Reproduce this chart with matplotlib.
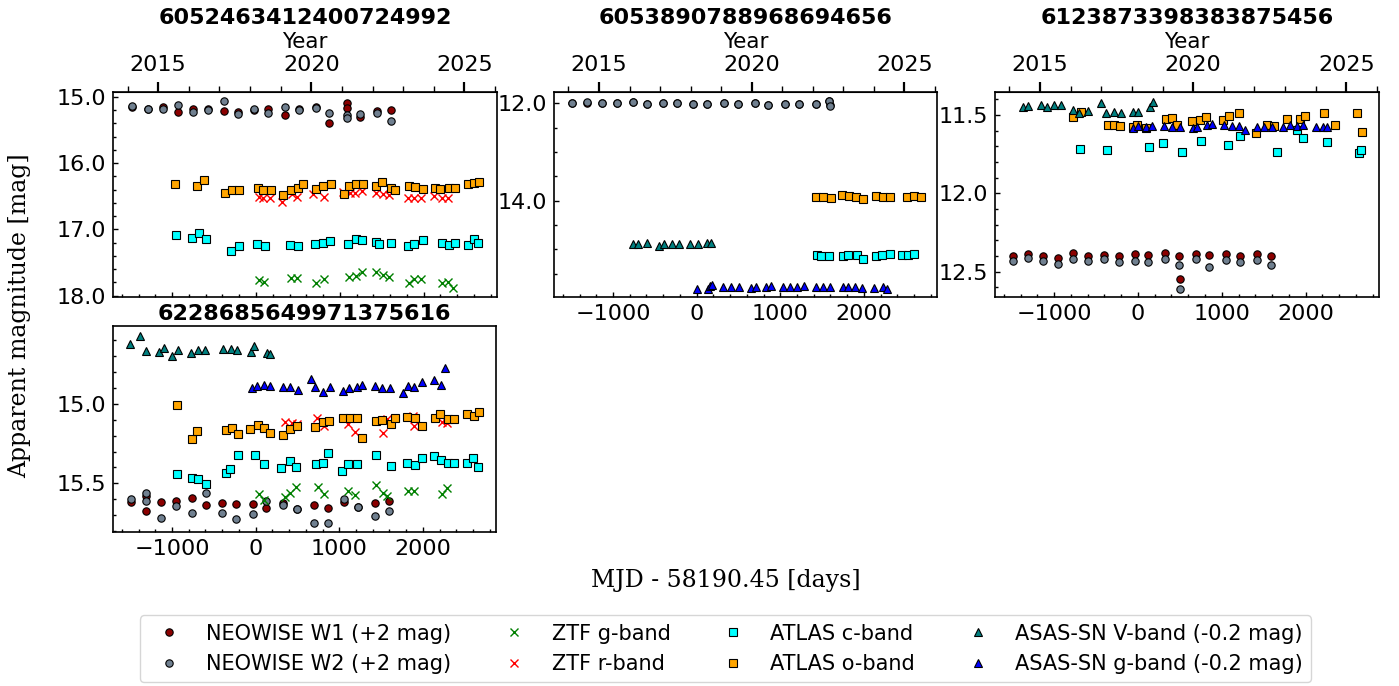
import numpy as np
import matplotlib.pyplot as plt
from matplotlib.ticker import MultipleLocator, FormatStrFormatter, FixedLocator

plt.rcParams['font.size'] = 16

MJD0 = 58190.45
W_OFF = 2.0     # NEOWISE shifted by +2 mag
ASN_OFF = -0.2  # ASAS-SN shifted by -0.2 mag

# ---- 6052463412400724992 ----
src1 = '6052463412400724992'
neo1_t = [-1474, -1291, -1112, -933, -746, -575, -380, -217, -19, 148, 347, 514, 713, 876, 1080, 1087, 1242, 1440, 1607]
neo1_w1 = [13.15, 13.186, 13.16, 13.226, 13.19, 13.19, 13.22, 13.226, 13.20, 13.19, 13.276, 13.181, 13.15, 13.39, 13.10, 13.175, 13.30, 13.21, 13.20]
neo1_w2 = [13.14, 13.186, 13.19, 13.125, 13.226, 13.20, 13.065, 13.266, 13.19, 13.24, 13.15, 13.206, 13.175, 13.25, 13.276, 13.316, 13.266, 13.24, 13.36]
ztf1_g_t = [41, 97, 415, 486, 717, 812, 1114, 1194, 1262, 1432, 1512, 1584, 1822, 1890, 1969, 2216, 2291, 2355]
ztf1_g = [17.765, 17.79, 17.73, 17.74, 17.815, 17.745, 17.725, 17.705, 17.64, 17.65, 17.695, 17.725, 17.815, 17.745, 17.755, 17.805, 17.79, 17.89]
ztf1_r_t = [41, 89, 172, 307, 431, 486, 685, 812, 1043, 1122, 1186, 1262, 1432, 1512, 1584, 1818, 1890, 1969, 2124, 2216, 2291]
ztf1_r = [16.508, 16.533, 16.523, 16.583, 16.473, 16.508, 16.473, 16.508, 16.432, 16.457, 16.457, 16.427, 16.447, 16.473, 16.487, 16.533, 16.533, 16.523, 16.498, 16.533, 16.523]
atl1_c_t = [-949, -762, -679, -595, -297, -198, 13, 105, 403, 498, 709, 800, 884, 1099, 1194, 1269, 1436, 1472, 1611, 1810, 1890, 1989, 2216, 2299, 2371, 2526, 2597, 2653]
atl1_c = [17.09, 17.13, 17.05, 17.15, 17.32, 17.25, 17.22, 17.25, 17.23, 17.25, 17.22, 17.21, 17.18, 17.22, 17.14, 17.16, 17.19, 17.22, 17.21, 17.25, 17.22, 17.16, 17.20, 17.23, 17.20, 17.24, 17.15, 17.20]
atl1_o_t = [-965, -703, -623, -365, -285, -202, 25, 89, 184, 327, 415, 498, 566, 717, 804, 892, 1055, 1114, 1198, 1281, 1432, 1504, 1607, 1663, 1822, 1902, 1993, 2140, 2196, 2299, 2379, 2526, 2597, 2661]
atl1_o = [16.32, 16.35, 16.26, 16.45, 16.41, 16.41, 16.38, 16.41, 16.41, 16.48, 16.41, 16.37, 16.32, 16.39, 16.34, 16.31, 16.47, 16.34, 16.32, 16.31, 16.34, 16.29, 16.37, 16.40, 16.35, 16.36, 16.39, 16.38, 16.39, 16.37, 16.37, 16.31, 16.30, 16.28]

# ---- 6053890788968694656 ----
src2 = '6053890788968694656'
neo2_t = [-1494, -1315, -1131, -956, -765, -597, -406, -230, -39, 128, 332, 491, 698, 858, 1057, 1225, 1428, 1587, 1592]
neo2_w1 = [10.00, 9.99, 10.00, 10.00, 9.98, 10.01, 9.99, 9.99, 10.01, 10.01, 10.00, 10.02, 10.00, 10.03, 10.01, 10.01, 10.01, 9.96, 10.04]
neo2_w2 = [10.00, 9.966, 10.00, 10.00, 9.979, 10.007, 9.993, 9.986, 10.014, 10.007, 10.00, 10.021, 10.00, 10.027, 10.014, 10.014, 10.007, 9.952, 10.048]
atl2_c_t = [1444, 1484, 1587, 1755, 1815, 1914, 1986, 2141, 2213, 2313, 2460, 2524, 2600]
atl2_c = [15.12, 15.14, 15.14, 15.13, 15.12, 15.12, 15.19, 15.13, 15.12, 15.10, 15.12, 15.12, 15.10]
atl2_o_t = [1424, 1516, 1603, 1743, 1823, 1906, 1986, 2145, 2225, 2313, 2520, 2604, 2680]
atl2_o = [13.93, 13.93, 13.95, 13.89, 13.91, 13.93, 13.97, 13.90, 13.93, 13.93, 13.92, 13.90, 13.93]
asn2_v_t = [-757, -705, -597, -450, -390, -298, -214, -79, 13, 128, 172]
asn2_v = [15.097, 15.090, 15.077, 15.132, 15.090, 15.097, 15.084, 15.097, 15.097, 15.077, 15.077]
asn2_g_t = [9, 132, 160, 180, 320, 407, 507, 651, 706, 826, 890, 1037, 1117, 1205, 1284, 1424, 1508, 1595, 1747, 1815, 1894, 1974, 2122, 2225, 2273]
asn2_g = [16.008, 16.008, 15.953, 15.940, 15.974, 15.981, 15.981, 15.995, 15.967, 15.974, 15.960, 15.974, 15.974, 15.974, 15.947, 15.974, 15.981, 15.974, 15.981, 15.974, 15.967, 15.995, 15.995, 15.981, 16.008]

# ---- 6123873398383875456 ----
src3 = '6123873398383875456'
neo3_t = [-1490, -1315, -1128, -953, -770, -591, -404, -229, -39, 124, 327, 490, 496, 693, 852, 1051, 1218, 1425, 1584]
neo3_w1 = [10.396, 10.389, 10.398, 10.409, 10.383, 10.398, 10.391, 10.402, 10.385, 10.391, 10.383, 10.400, 10.549, 10.387, 10.394, 10.385, 10.398, 10.387, 10.400]
neo3_w2 = [10.428, 10.413, 10.434, 10.453, 10.417, 10.434, 10.417, 10.436, 10.428, 10.440, 10.421, 10.457, 10.609, 10.421, 10.468, 10.423, 10.440, 10.426, 10.457]
atl3_c_t = [-691, -373, 136, 303, 522, 753, 1079, 1218, 1655, 1894, 1973, 2252, 2637, 2661]
atl3_c = [11.715, 11.723, 11.702, 11.681, 11.738, 11.668, 11.691, 11.634, 11.734, 11.596, 11.643, 11.672, 11.743, 11.723]
atl3_o_t = [-770, -679, -361, -285, -213, -62, -7, 97, 331, 411, 470, 649, 741, 812, 1019, 1087, 1210, 1405, 1544, 1623, 1782, 1933, 1993, 2224, 2351, 2617, 2669]
atl3_o = [11.515, 11.479, 11.560, 11.560, 11.570, 11.574, 11.564, 11.585, 11.526, 11.521, 11.564, 11.540, 11.534, 11.515, 11.532, 11.506, 11.489, 11.617, 11.560, 11.570, 11.526, 11.526, 11.504, 11.487, 11.560, 11.489, 11.606]
asn3_v_t = [-1367, -1307, -1156, -1088, -997, -921, -770, -699, -591, -440, -384, -285, -206, -55, 5, 144, 176]
asn3_v = [11.647, 11.643, 11.634, 11.649, 11.638, 11.636, 11.670, 11.685, 11.672, 11.621, 11.689, 11.681, 11.689, 11.681, 11.681, 11.647, 11.615]
asn3_g_t = [-62, 5, 97, 164, 315, 403, 502, 661, 701, 820, 880, 1027, 1118, 1210, 1277, 1425, 1508, 1596, 1735, 1814, 1894, 1973, 2124, 2204, 2259]
asn3_g = [11.785, 11.770, 11.774, 11.768, 11.772, 11.779, 11.774, 11.785, 11.774, 11.764, 11.757, 11.766, 11.768, 11.772, 11.796, 11.779, 11.779, 11.774, 11.774, 11.766, 11.770, 11.764, 11.777, 11.774, 11.777]

# ---- 6228685649971375616 ----
src4 = '6228685649971375616'
neo4_t = [-1494, -1311, -1305, -1131, -952, -765, -593, -398, -234, -35, 124, 332, 499, 698, 862, 1061, 1221, 1428, 1591]
neo4_w1 = [13.616, 13.580, 13.674, 13.616, 13.609, 13.595, 13.637, 13.626, 13.632, 13.632, 13.653, 13.626, 13.660, 13.637, 13.653, 13.616, 13.647, 13.626, 13.611]
neo4_w2 = [13.601, 13.563, 13.611, 13.721, 13.643, 13.685, 13.563, 13.685, 13.725, 13.693, 13.611, 13.637, 13.664, 13.750, 13.752, 13.601, 13.651, 13.706, 13.674]
ztf4_g_t = [45, 100, 352, 411, 479, 750, 818, 1109, 1189, 1440, 1528, 1575, 1827, 1898, 2225, 2285]
ztf4_g = [15.567, 15.605, 15.584, 15.563, 15.525, 15.525, 15.569, 15.546, 15.574, 15.511, 15.563, 15.580, 15.548, 15.546, 15.567, 15.527]
ztf4_r_t = [352, 439, 491, 738, 818, 1109, 1189, 1520, 1575, 1886, 1898, 2225, 2285]
ztf4_r = [15.113, 15.122, 15.126, 15.090, 15.139, 15.128, 15.174, 15.181, 15.095, 15.074, 15.137, 15.116, 15.122]
atl4_c_t = [-944, -765, -693, -593, -358, -306, -207, -7, 104, 304, 411, 483, 722, 810, 870, 1037, 1101, 1217, 1436, 1619, 1815, 1906, 1986, 2133, 2217, 2297, 2373, 2524, 2604, 2664]
atl4_c = [15.439, 15.468, 15.473, 15.506, 15.437, 15.410, 15.321, 15.324, 15.378, 15.401, 15.361, 15.397, 15.378, 15.372, 15.307, 15.424, 15.380, 15.378, 15.319, 15.391, 15.370, 15.382, 15.342, 15.330, 15.353, 15.370, 15.370, 15.370, 15.342, 15.399]
atl4_o_t = [-944, -757, -697, -358, -286, -214, -67, 33, 100, 172, 332, 411, 491, 710, 810, 882, 1049, 1129, 1217, 1268, 1436, 1508, 1615, 1667, 1815, 1906, 1986, 2145, 2205, 2305, 2377, 2524, 2612, 2672]
atl4_o = [15.006, 15.221, 15.172, 15.164, 15.153, 15.187, 15.160, 15.132, 15.151, 15.185, 15.193, 15.160, 15.137, 15.145, 15.116, 15.107, 15.090, 15.090, 15.090, 15.216, 15.109, 15.099, 15.128, 15.090, 15.080, 15.090, 15.139, 15.086, 15.065, 15.097, 15.092, 15.063, 15.076, 15.048]
asn4_v_t = [-1502, -1382, -1311, -1151, -1095, -1004, -924, -773, -693, -605, -386, -294, -218, -55, -15, 132, 172]
asn4_v = [14.824, 14.771, 14.866, 14.872, 14.849, 14.897, 14.860, 14.881, 14.862, 14.860, 14.851, 14.853, 14.862, 14.874, 14.832, 14.881, 14.885]
asn4_g_t = [-47, 13, 104, 172, 324, 411, 511, 659, 710, 810, 890, 1041, 1121, 1209, 1276, 1428, 1516, 1607, 1759, 1827, 1898, 1986, 2133, 2217, 2269]
asn4_g = [15.101, 15.084, 15.080, 15.087, 15.091, 15.091, 15.112, 15.042, 15.095, 15.122, 15.091, 15.116, 15.097, 15.095, 15.080, 15.084, 15.101, 15.097, 15.129, 15.084, 15.095, 15.059, 15.051, 15.078, 14.975]

# (label, marker, colour, offset) for every survey band
bands = {
    'w1': ('NEOWISE W1 (+2 mag)', 'o', 'darkred', W_OFF),
    'w2': ('NEOWISE W2 (+2 mag)', 'o', 'slategrey', W_OFF),
    'zg': ('ZTF g-band', 'x', 'green', 0.0),
    'zr': ('ZTF r-band', 'x', 'red', 0.0),
    'ac': ('ATLAS c-band', 's', 'cyan', 0.0),
    'ao': ('ATLAS o-band', 's', 'orange', 0.0),
    'sv': ('ASAS-SN V-band (-0.2 mag)', '^', 'teal', ASN_OFF),
    'sg': ('ASAS-SN g-band (-0.2 mag)', '^', 'blue', ASN_OFF),
}

sources = [
    (src1, {'w1': (neo1_t, neo1_w1), 'w2': (neo1_t, neo1_w2), 'zg': (ztf1_g_t, ztf1_g),
            'zr': (ztf1_r_t, ztf1_r), 'ac': (atl1_c_t, atl1_c), 'ao': (atl1_o_t, atl1_o)}),
    (src2, {'w1': (neo2_t, neo2_w1), 'w2': (neo2_t, neo2_w2), 'ac': (atl2_c_t, atl2_c),
            'ao': (atl2_o_t, atl2_o), 'sv': (asn2_v_t, asn2_v), 'sg': (asn2_g_t, asn2_g)}),
    (src3, {'w1': (neo3_t, neo3_w1), 'w2': (neo3_t, neo3_w2), 'ac': (atl3_c_t, atl3_c),
            'ao': (atl3_o_t, atl3_o), 'sv': (asn3_v_t, asn3_v), 'sg': (asn3_g_t, asn3_g)}),
    (src4, {'w1': (neo4_t, neo4_w1), 'w2': (neo4_t, neo4_w2), 'zg': (ztf4_g_t, ztf4_g),
            'zr': (ztf4_r_t, ztf4_r), 'ac': (atl4_c_t, atl4_c), 'ao': (atl4_o_t, atl4_o),
            'sv': (asn4_v_t, asn4_v), 'sg': (asn4_g_t, asn4_g)}),
]

# axes boxes [left, bottom, width, height], y limits, y tick steps
boxes = [[0.0808, 0.567, 0.2745, 0.2988],
         [0.396, 0.567, 0.2738, 0.2988],
         [0.7112, 0.567, 0.2745, 0.2988],
         [0.0808, 0.2245, 0.2738, 0.3003]]
ylims = [(18.02, 14.93), (15.98, 11.77), (12.661, 11.353), (15.807, 14.509)]
ysteps = [(1.0, 0.2), (2.0, 0.5), (0.5, 0.1), (0.5, 0.1)]


def mjd2year(d):
    return 2000.0 + (np.asarray(d) + MJD0 - 51544.5) / 365.25


def year2mjd(y):
    return (np.asarray(y) - 2000.0) * 365.25 + 51544.5 - MJD0


fig = plt.figure(figsize=(13.99, 6.86), dpi=100)
axes = []
for i, (name, data) in enumerate(sources):
    ax = fig.add_axes(boxes[i])
    axes.append(ax)
    for key in bands:
        if key not in data:
            continue
        label, mk, col, off = bands[key]
        t, m = data[key]
        m = np.array(m) + off
        if mk == 'x':
            ax.plot(t, m, mk, color=col, ms=5.5, mew=1.0, ls='none', label=label)
        else:
            ax.plot(t, m, mk, mfc=col, mec='black', ms=5.3, mew=0.8, ls='none', label=label)

    ax.set_xlim(-1705, 2875)
    ax.set_ylim(*ylims[i])
    ax.yaxis.set_major_locator(MultipleLocator(ysteps[i][0]))
    ax.yaxis.set_minor_locator(MultipleLocator(ysteps[i][1]))
    ax.yaxis.set_major_formatter(FormatStrFormatter('%.1f'))
    ax.xaxis.set_major_locator(MultipleLocator(1000))
    ax.xaxis.set_minor_locator(MultipleLocator(200))
    ax.tick_params(which='both', direction='in', top=False, right=False, labelsize=16)
    ax.tick_params(which='major', length=3.8, width=1, pad=5)
    ax.tick_params(which='minor', length=2.5, width=1)
    for sp in ax.spines.values():
        sp.set_linewidth(1.2)
    if i == 0:
        ax.tick_params(labelbottom=False)

    if i < 3:
        sec = ax.secondary_xaxis('top', functions=(mjd2year, year2mjd))
        sec.xaxis.set_major_locator(FixedLocator([2015, 2020, 2025]))
        sec.xaxis.set_minor_locator(FixedLocator(np.arange(2014, 2027)))
        sec.tick_params(which='major', direction='out', length=7.2, width=1.6, pad=5, labelsize=16)
        sec.tick_params(which='minor', direction='out', length=4, width=1)
        sec.set_xlabel('Year', fontsize=15.5, labelpad=5)
        ax.set_title(name, fontsize=16, fontweight='bold', pad=6)
    else:
        ax.set_title(name, fontsize=16, fontweight='bold', pad=4)

fig.text(0.0143, 0.54, 'Apparent magnitude [mag]', family='DejaVu Serif',
         rotation=90, ha='center', va='center', fontsize=17)
fig.text(0.5186, 0.1545, 'MJD - 58190.45 [days]', family='DejaVu Serif',
         ha='center', va='center', fontsize=17)

handles, labels = axes[3].get_legend_handles_labels()
fig.legend(handles, labels, loc='center', bbox_to_anchor=(0.5186, 0.054),
           ncol=4, fontsize=15)

fig.savefig('out.png', dpi=100)
